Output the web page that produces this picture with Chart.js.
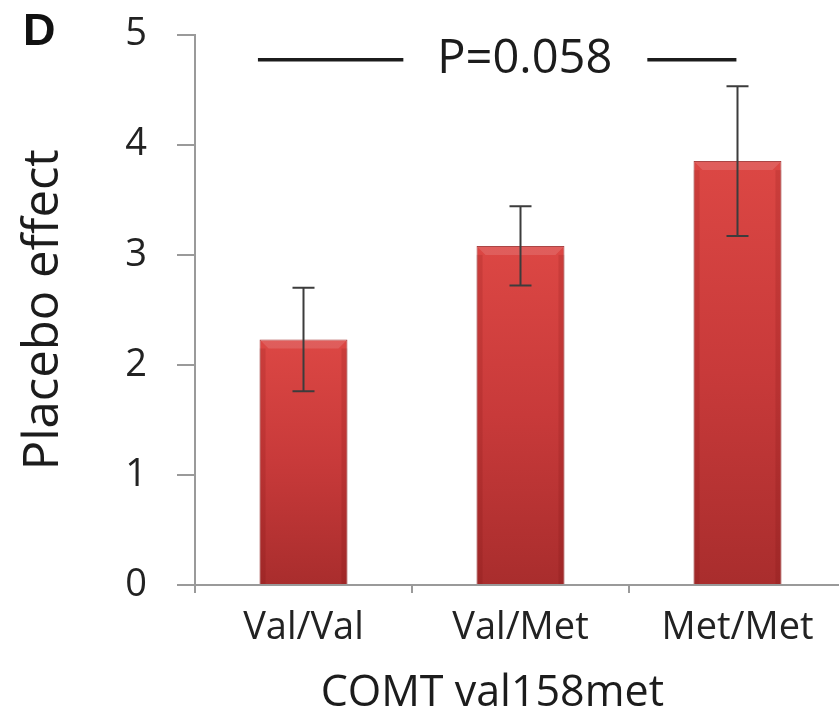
<!DOCTYPE html>
<html><head><meta charset="utf-8">
<script src="https://cdn.jsdelivr.net/npm/chart.js@4"></script>
<style>html,body{margin:0;padding:0;overflow:hidden;background:#fff}</style>
</head><body>
<canvas id="c" width="848" height="710" style="display:block;width:848px;height:710px"></canvas>
<script>
// ---- data ----
const categories = ['Val/Val', 'Val/Met', 'Met/Met'];
const placeboEffect = [2.23, 3.08, 3.85];
const errorMargin = [0.47, 0.36, 0.68];
const yTickValues = [0, 1, 2, 3, 4, 5];
const pValueLabel = 'P=0.058';
const bracketLevel = 4.77;
const panelLabel = 'D';
const xAxisTitle = 'COMT val158met';
const yAxisTitle = 'Placebo effect';

const FONT = '"Open Sans", "DejaVu Sans", sans-serif';

const decor = {
  id: 'decor',
  beforeDatasetsDraw(chart) {
    const meta = chart.getDatasetMeta(0);
    const c = chart.ctx;
    meta.data.forEach(el => {
      const g = c.createLinearGradient(0, el.y, 0, el.base);
      g.addColorStop(0, '#dc4744');
      g.addColorStop(0.5, '#c83a3a');
      g.addColorStop(1, '#a92d2d');
      el.options = Object.assign({}, el.options, { backgroundColor: g });
    });
  },
  afterDatasetsDraw(chart) {
    const c = chart.ctx;
    const ys = chart.scales.y, xs = chart.scales.x;
    const meta = chart.getDatasetMeta(0);
    c.save();
    // bar bevels
    meta.data.forEach(el => {
      const w = el.width, l = el.x - w / 2, r = el.x + w / 2, t = el.y, b = el.base;
      const d = 9;
      c.fillStyle = 'rgba(255,255,255,0.13)';
      c.beginPath(); c.moveTo(l, t); c.lineTo(r, t); c.lineTo(r - d, t + d); c.lineTo(l + d, t + d); c.closePath(); c.fill();
      c.fillStyle = 'rgba(90,0,0,0.12)';
      c.fillRect(l, t + d, 6, b - t - d);
      c.fillRect(r - 6, t + d, 6, b - t - d);
    });
    // error bars
    c.strokeStyle = '#3c3c3c';
    c.lineWidth = 2;
    meta.data.forEach((el, i) => {
      const hi = ys.getPixelForValue(placeboEffect[i] + errorMargin[i]);
      const lo = ys.getPixelForValue(placeboEffect[i] - errorMargin[i]);
      c.beginPath();
      c.moveTo(el.x, hi); c.lineTo(el.x, lo);
      c.moveTo(el.x - 11, hi); c.lineTo(el.x + 11, hi);
      c.moveTo(el.x - 11, lo); c.lineTo(el.x + 11, lo);
      c.stroke();
    });
    // significance bracket with p-value
    const by = ys.getPixelForValue(bracketLevel);
    c.font = '47px ' + FONT;
    c.fillStyle = '#1c1c1c';
    c.textAlign = 'center';
    c.textBaseline = 'middle';
    const tx = xs.getPixelForValue(1.02);
    c.fillText(pValueLabel, tx, by);
    const tw = c.measureText(pValueLabel).width;
    c.strokeStyle = '#1c1c1c';
    c.lineWidth = 3.5;
    c.beginPath();
    c.moveTo(xs.getPixelForValue(-0.21), by); c.lineTo(tx - tw / 2 - 34, by);
    c.moveTo(tx + tw / 2 + 35, by); c.lineTo(xs.getPixelForValue(1.995), by);
    c.stroke();
    // x axis title
    c.font = '43px ' + FONT;
    c.textBaseline = 'alphabetic';
    c.fillStyle = '#1c1c1c';
    c.fillText(xAxisTitle, xs.getPixelForValue(0.87), 706);
    // panel label
    c.font = 'bold 45px "Liberation Sans", Arial, sans-serif';
    c.textAlign = 'left';
    c.fillStyle = '#111';
    c.fillText(panelLabel, 23, 45);
    c.restore();
  }
};

new Chart(document.getElementById('c'), {
  type: 'bar',
  data: {
    labels: categories,
    datasets: [{
      data: placeboEffect,
      backgroundColor: '#c83a3a',
      borderColor: '#9e2a2a',
      borderWidth: 1,
      categoryPercentage: 1,
      barPercentage: 0.405
    }]
  },
  options: {
    responsive: false,
    animation: false,
    events: [],
    layout: { padding: { left: 0, top: 34.5, right: 2, bottom: 0 } },
    plugins: { legend: { display: false }, tooltip: { enabled: false } },
    scales: {
      x: {
        afterFit(s) { s.height = 125; s.paddingLeft = 0; s.paddingRight = 0; },
        grid: { display: true, drawOnChartArea: false, drawTicks: true, tickLength: 8, offset: true, color: '#9a9a9a', lineWidth: 2 },
        border: { display: true, color: '#9a9a9a', width: 2 },
        ticks: { font: { family: FONT, size: 38 }, color: '#222', padding: 12, maxRotation: 0 }
      },
      y: {
        min: 0, max: 5,
        afterFit(s) { s.width = 195; s.paddingTop = 0; s.paddingBottom = 0; },
        afterBuildTicks(s) { s.ticks = yTickValues.map(v => ({ value: v })); },
        grid: { display: true, drawOnChartArea: false, drawTicks: true, tickLength: 18, color: '#9a9a9a', lineWidth: 2 },
        border: { display: true, color: '#9a9a9a', width: 2 },
        ticks: { font: { family: FONT, size: 38 }, color: '#222', padding: 30 },
        title: { display: true, text: yAxisTitle, font: { family: FONT, size: 49, lineHeight: 1 }, color: '#1c1c1c', padding: { top: 20, bottom: 0 } }
      }
    }
  },
  plugins: [decor]
});
</script>
</body></html>
